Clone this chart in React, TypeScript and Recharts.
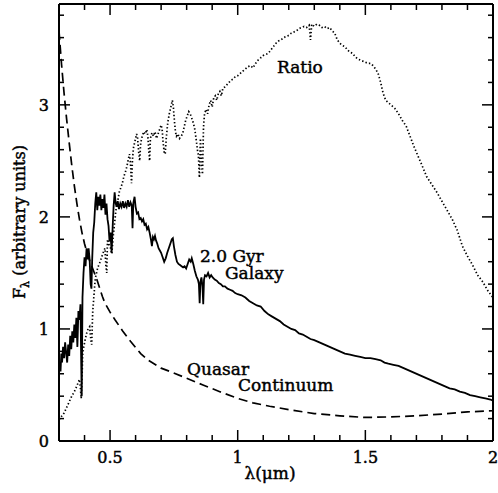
import React from "react";
import { LineChart, Line, XAxis, YAxis } from "recharts";

// wavelength (micron), flux (arbitrary units)
const galaxyLam = [
  0.300, 0.303, 0.306, 0.309, 0.312, 0.316, 0.320, 0.324, 0.328, 0.332, 0.336, 0.340, 0.344, 0.348, 0.352, 0.356,
  0.360, 0.364, 0.368, 0.372, 0.376, 0.380, 0.384, 0.387, 0.389, 0.392, 0.396, 0.400, 0.404, 0.408, 0.412, 0.416,
  0.420, 0.424, 0.427, 0.430, 0.434, 0.438, 0.442, 0.446, 0.450, 0.454, 0.458, 0.462, 0.466, 0.470, 0.474, 0.478,
  0.482, 0.486, 0.490, 0.494, 0.498, 0.502, 0.506, 0.510, 0.514, 0.518, 0.522, 0.526, 0.530, 0.535, 0.540, 0.545,
  0.550, 0.555, 0.560, 0.565, 0.570, 0.575, 0.580, 0.585, 0.588, 0.591, 0.596, 0.600, 0.605, 0.610, 0.615, 0.620,
  0.625, 0.630, 0.635, 0.640, 0.645, 0.650, 0.655, 0.660, 0.664, 0.668, 0.672, 0.676, 0.680, 0.685, 0.690, 0.695,
  0.700, 0.706, 0.712, 0.718, 0.724, 0.730, 0.736, 0.742, 0.746, 0.750, 0.756, 0.762, 0.768, 0.774, 0.780, 0.786,
  0.792, 0.798, 0.804, 0.810, 0.816, 0.820, 0.826, 0.832, 0.838, 0.844, 0.848, 0.851, 0.854, 0.858, 0.862, 0.865,
  0.868, 0.872, 0.878, 0.884, 0.890, 0.896, 0.902, 0.910, 0.918, 0.926, 0.934, 0.942, 0.950, 0.960, 0.970, 0.980,
  0.990, 1.000, 1.015, 1.030, 1.045, 1.060, 1.075, 1.090, 1.105, 1.120, 1.135, 1.150, 1.165, 1.180, 1.195, 1.210,
  1.225, 1.240, 1.255, 1.270, 1.285, 1.300, 1.320, 1.340, 1.360, 1.380, 1.400, 1.420, 1.440, 1.460, 1.480, 1.500,
  1.520, 1.540, 1.560, 1.575, 1.590, 1.610, 1.630, 1.650, 1.670, 1.690, 1.710, 1.730, 1.750, 1.770, 1.790, 1.810,
  1.830, 1.850, 1.870, 1.890, 1.910, 1.930, 1.950, 1.970, 1.990, 2.000,
];
const galaxyFlux = [
  0.60, 0.70, 0.62, 0.78, 0.70, 0.84, 0.74, 0.88, 0.79, 0.70, 0.86, 0.76, 0.94, 0.82, 0.98, 0.88,
  1.04, 0.92, 1.10, 0.84, 1.16, 1.08, 1.22, 0.70, 0.40, 1.28, 1.50, 1.64, 1.56, 1.72, 1.62, 1.72,
  1.62, 1.40, 1.36, 1.62, 1.86, 1.95, 2.12, 2.22, 2.06, 2.18, 2.10, 2.20, 2.06, 2.16, 2.08, 2.20,
  2.02, 2.12, 1.98, 1.92, 1.78, 1.86, 1.68, 1.90, 2.10, 2.22, 2.12, 2.09, 2.14, 2.07, 2.12, 2.09,
  2.14, 2.08, 2.12, 2.09, 2.15, 2.09, 2.13, 2.10, 1.90, 2.12, 2.18, 2.09, 2.03, 2.04, 1.98, 1.99,
  1.96, 1.98, 1.93, 1.94, 1.89, 1.91, 1.86, 1.80, 1.74, 1.82, 1.80, 1.83, 1.79, 1.76, 1.72, 1.70,
  1.68, 1.64, 1.60, 1.63, 1.68, 1.72, 1.76, 1.80, 1.81, 1.74, 1.66, 1.60, 1.58, 1.57, 1.56, 1.55,
  1.56, 1.54, 1.58, 1.62, 1.60, 1.63, 1.58, 1.52, 1.47, 1.44, 1.40, 1.23, 1.42, 1.46, 1.38, 1.22,
  1.44, 1.48, 1.47, 1.50, 1.46, 1.48, 1.46, 1.44, 1.43, 1.41, 1.40, 1.38, 1.38, 1.36, 1.35, 1.34,
  1.32, 1.31, 1.30, 1.28, 1.25, 1.23, 1.21, 1.20, 1.16, 1.13, 1.11, 1.09, 1.07, 1.04, 1.02, 1.00,
  0.99, 0.96, 0.95, 0.93, 0.91, 0.90, 0.88, 0.86, 0.84, 0.82, 0.80, 0.78, 0.77, 0.76, 0.75, 0.74,
  0.74, 0.73, 0.72, 0.70, 0.69, 0.68, 0.67, 0.65, 0.63, 0.61, 0.59, 0.57, 0.55, 0.53, 0.51, 0.49,
  0.47, 0.46, 0.44, 0.43, 0.41, 0.40, 0.39, 0.38, 0.37, 0.36,
];

const quasarLam = [
  0.30, 0.31, 0.32, 0.33, 0.34, 0.35, 0.36, 0.37, 0.38, 0.39, 0.40, 0.41, 0.42, 0.43, 0.44, 0.45,
  0.46, 0.47, 0.48, 0.50, 0.52, 0.55, 0.58, 0.62, 0.65, 0.70, 0.735, 0.80, 0.864, 0.93, 1.00, 1.06,
  1.125, 1.20, 1.30, 1.40, 1.50, 1.60, 1.70, 1.80, 1.90, 2.00,
];
const quasarFlux = [
  3.66, 3.36, 3.10, 2.87, 2.66, 2.46, 2.28, 2.12, 1.98, 1.86, 1.76, 1.68, 1.61, 1.55, 1.49, 1.43,
  1.36, 1.29, 1.23, 1.15, 1.08, 0.98, 0.89, 0.78, 0.72, 0.65, 0.62, 0.56, 0.50, 0.44, 0.38, 0.34,
  0.31, 0.28, 0.245, 0.225, 0.21, 0.215, 0.225, 0.24, 0.26, 0.27,
];

const ratioLam = [
  0.300, 0.310, 0.320, 0.330, 0.340, 0.350, 0.360, 0.368, 0.375, 0.380, 0.384, 0.387, 0.390, 0.393, 0.397, 0.402,
  0.408, 0.414, 0.420, 0.425, 0.428, 0.432, 0.437, 0.442, 0.447, 0.452, 0.458, 0.464, 0.470, 0.476, 0.480, 0.484,
  0.487, 0.490, 0.496, 0.502, 0.507, 0.512, 0.518, 0.524, 0.530, 0.536, 0.542, 0.548, 0.554, 0.560, 0.566, 0.572,
  0.576, 0.580, 0.584, 0.588, 0.592, 0.598, 0.604, 0.608, 0.612, 0.616, 0.620, 0.626, 0.632, 0.638, 0.644, 0.648,
  0.652, 0.655, 0.658, 0.664, 0.670, 0.676, 0.682, 0.688, 0.694, 0.700, 0.704, 0.708, 0.712, 0.716, 0.720, 0.726,
  0.732, 0.738, 0.744, 0.748, 0.752, 0.756, 0.760, 0.766, 0.772, 0.778, 0.784, 0.790, 0.796, 0.802, 0.808, 0.814,
  0.820, 0.826, 0.832, 0.838, 0.842, 0.846, 0.850, 0.854, 0.858, 0.862, 0.866, 0.870, 0.876, 0.882, 0.888, 0.894,
  0.900, 0.906, 0.912, 0.918, 0.924, 0.930, 0.936, 0.942, 0.950, 0.958, 0.966, 0.974, 0.982, 0.990, 1.000, 1.010,
  1.020, 1.030, 1.040, 1.050, 1.060, 1.070, 1.080, 1.090, 1.100, 1.110, 1.120, 1.130, 1.140, 1.150, 1.160, 1.170,
  1.180, 1.190, 1.200, 1.210, 1.220, 1.230, 1.240, 1.250, 1.260, 1.270, 1.280, 1.285, 1.290, 1.300, 1.310, 1.320,
  1.330, 1.340, 1.350, 1.360, 1.370, 1.380, 1.390, 1.400, 1.410, 1.420, 1.430, 1.440, 1.450, 1.460, 1.470, 1.480,
  1.490, 1.500, 1.510, 1.520, 1.530, 1.540, 1.550, 1.560, 1.570, 1.580, 1.590, 1.600, 1.615, 1.630, 1.645, 1.660,
  1.690, 1.720, 1.740, 1.760, 1.780, 1.800, 1.820, 1.840, 1.860, 1.880, 1.900, 1.920, 1.940, 1.960, 1.980, 2.000,
];
const ratioFlux = [
  0.19, 0.22, 0.25, 0.30, 0.35, 0.40, 0.44, 0.48, 0.52, 0.55, 0.47, 0.38, 0.55, 0.78, 0.84, 0.90,
  0.96, 1.00, 1.02, 0.90, 0.86, 1.15, 1.30, 1.45, 1.50, 1.55, 1.58, 1.62, 1.66, 1.70, 1.72, 1.55,
  1.50, 1.80, 1.75, 1.72, 1.67, 1.82, 1.95, 2.08, 2.14, 2.22, 2.26, 2.30, 2.36, 2.40, 2.45, 2.52,
  2.56, 2.48, 2.30, 2.52, 2.62, 2.68, 2.74, 2.70, 2.58, 2.50, 2.66, 2.72, 2.76, 2.74, 2.78, 2.72,
  2.58, 2.50, 2.70, 2.75, 2.72, 2.76, 2.70, 2.74, 2.78, 2.82, 2.78, 2.66, 2.58, 2.56, 2.70, 2.84,
  2.92, 2.98, 3.04, 2.98, 2.86, 2.76, 2.72, 2.74, 2.70, 2.72, 2.74, 2.80, 2.86, 2.90, 2.94, 2.92,
  2.88, 2.84, 2.78, 2.68, 2.60, 2.55, 2.35, 2.70, 2.48, 2.38, 2.80, 2.92, 2.96, 2.92, 3.00, 3.04,
  2.98, 3.06, 3.08, 3.04, 3.10, 3.12, 3.08, 3.15, 3.16, 3.18, 3.20, 3.22, 3.23, 3.25, 3.26, 3.28,
  3.30, 3.32, 3.34, 3.35, 3.33, 3.37, 3.40, 3.42, 3.44, 3.45, 3.46, 3.49, 3.52, 3.55, 3.57, 3.58,
  3.60, 3.61, 3.62, 3.64, 3.65, 3.66, 3.68, 3.69, 3.70, 3.69, 3.71, 3.58, 3.72, 3.70, 3.72, 3.71,
  3.69, 3.70, 3.68, 3.69, 3.66, 3.64, 3.58, 3.55, 3.53, 3.52, 3.49, 3.47, 3.46, 3.43, 3.41, 3.40,
  3.39, 3.38, 3.37, 3.37, 3.35, 3.32, 3.28, 3.20, 3.10, 3.04, 3.02, 3.00, 2.97, 2.92, 2.86, 2.81,
  2.63, 2.47, 2.36, 2.29, 2.22, 2.14, 2.06, 1.98, 1.88, 1.74, 1.65, 1.57, 1.48, 1.42, 1.34, 1.28,
];

const xTicks = [0.4, 0.5, 0.6, 0.7, 0.8, 0.9, 1.0, 1.1, 1.2, 1.3, 1.4, 1.5, 1.6, 1.7, 1.8, 1.9, 2.0];
const yTicks = [0.2, 0.4, 0.6, 0.8, 1, 1.2, 1.4, 1.6, 1.8, 2, 2.2, 2.4, 2.6, 2.8, 3, 3.2, 3.4, 3.6, 3.8];
const xMajorLabels = ["0.5", "1", "1.5", "2"];
const yMajorLabels = ["0", "1", "2", "3"];

const toPoints = (lam: number[], flux: number[]) => lam.map((x, i) => ({ x, f: flux[i] }));
const galaxy = toPoints(galaxyLam, galaxyFlux);
const quasar = toPoints(quasarLam, quasarFlux);
const ratio = toPoints(ratioLam, ratioFlux);

const FONT = "'DejaVu Serif', serif";
const TEXT_STYLE = { fontFamily: FONT, fill: "#000", stroke: "#000", strokeWidth: 0.45 };
const isHalf = (v: number) => Math.abs(v * 2 - Math.round(v * 2)) < 1e-6;
const isInt = (v: number) => Math.abs(v - Math.round(v)) < 1e-6;
const fmt = (v: number) => String(Math.round(v * 10) / 10);

const BottomTick = (props: any) => {
  const { x, y, payload } = props;
  const v = payload.value;
  const major = isHalf(v);
  const label = fmt(v);
  return (
    <g>
      <line x1={x} y1={y} x2={x} y2={y - (major ? 11 : 6)} stroke="#000" strokeWidth={1.5} />
      {major && xMajorLabels.includes(label) && (
        <text x={x} y={y + 22} textAnchor="middle" fontSize={16} {...TEXT_STYLE}>
          {label}
        </text>
      )}
    </g>
  );
};
const TopTick = (props: any) => {
  const { x, y, payload } = props;
  const major = isHalf(payload.value);
  return <line x1={x} y1={y} x2={x} y2={y + (major ? 11 : 6)} stroke="#000" strokeWidth={1.5} />;
};
const LeftTick = (props: any) => {
  const { x, y, payload } = props;
  const v = payload.value;
  const major = isInt(v);
  const label = fmt(v);
  return (
    <g>
      <line x1={x} y1={y} x2={x + (major ? 11 : 5)} y2={y} stroke="#000" strokeWidth={1.5} />
      {major && yMajorLabels.includes(label) && (
        <text x={x - 10} y={y + 6} textAnchor="end" fontSize={16} {...TEXT_STYLE}>
          {label}
        </text>
      )}
    </g>
  );
};
const RightTick = (props: any) => {
  const { x, y, payload } = props;
  const major = isInt(payload.value);
  return <line x1={x} y1={y} x2={x - (major ? 11 : 5)} y2={y} stroke="#000" strokeWidth={1.5} />;
};

const axisLine = { stroke: "#000", strokeWidth: 2 };

export default function App() {
  return (
    <div style={{ position: "absolute", left: 0, top: 0, width: 498, height: 493, background: "#fff" }}>
      <LineChart width={498} height={493} margin={{ top: 0, right: 0, bottom: 0, left: 0 }}>
        <XAxis
          xAxisId={0}
          dataKey="x"
          type="number"
          domain={[0.3, 2]}
          allowDataOverflow
          ticks={[0.3, ...xTicks]}
          interval={0}
          orientation="bottom"
          height={52}
          tickSize={0}
          tickMargin={0}
          tickLine={false}
          axisLine={axisLine}
          tick={<BottomTick />}
        />
        <XAxis
          xAxisId="top"
          dataKey="x"
          type="number"
          domain={[0.3, 2]}
          allowDataOverflow
          ticks={xTicks}
          interval={0}
          orientation="top"
          height={4}
          tickSize={0}
          tickMargin={0}
          tickLine={false}
          axisLine={axisLine}
          tick={<TopTick />}
        />
        <YAxis
          yAxisId={0}
          type="number"
          domain={[0, 3.9]}
          allowDataOverflow
          ticks={[0, ...yTicks]}
          interval={0}
          orientation="left"
          width={59}
          tickSize={0}
          tickMargin={0}
          tickLine={false}
          axisLine={axisLine}
          tick={<LeftTick />}
        />
        <YAxis
          yAxisId="right"
          type="number"
          domain={[0, 3.9]}
          allowDataOverflow
          ticks={yTicks}
          interval={0}
          orientation="right"
          width={5}
          tickSize={0}
          tickMargin={0}
          tickLine={false}
          axisLine={axisLine}
          tick={<RightTick />}
        />
        <Line
          data={quasar}
          dataKey="f"
          type="linear"
          stroke="#000"
          strokeWidth={1.7}
          strokeDasharray="9 5"
          dot={false}
          activeDot={false}
          isAnimationActive={false}
        />
        <Line
          data={ratio}
          dataKey="f"
          type="linear"
          stroke="#000"
          strokeWidth={1.7}
          strokeDasharray="1.4 2.2"
          dot={false}
          activeDot={false}
          isAnimationActive={false}
        />
        <Line
          data={galaxy}
          dataKey="f"
          type="linear"
          stroke="#000"
          strokeWidth={1.8}
          dot={false}
          activeDot={false}
          isAnimationActive={false}
        />
        <text x={277} y={73} fontSize={17} {...TEXT_STYLE}>Ratio</text>
        <text x={200} y={262} fontSize={17} {...TEXT_STYLE}>2.0 Gyr</text>
        <text x={225} y={279} fontSize={17} {...TEXT_STYLE}>Galaxy</text>
        <text x={187} y={375} fontSize={17} {...TEXT_STYLE}>Quasar</text>
        <text x={238} y={391} fontSize={17} {...TEXT_STYLE}>Continuum</text>
        <text x={270} y={479} textAnchor="middle" fontSize={17} {...TEXT_STYLE}>λ(μm)</text>
        <text
          x={25}
          y={222}
          textAnchor="middle"
          transform="rotate(-90, 25, 222)"
          fontSize={16}
          {...TEXT_STYLE}
        >
          F<tspan fontSize={11} dy={4}>λ</tspan>
          <tspan dy={-4}> (arbitrary units)</tspan>
        </text>
      </LineChart>
    </div>
  );
}
